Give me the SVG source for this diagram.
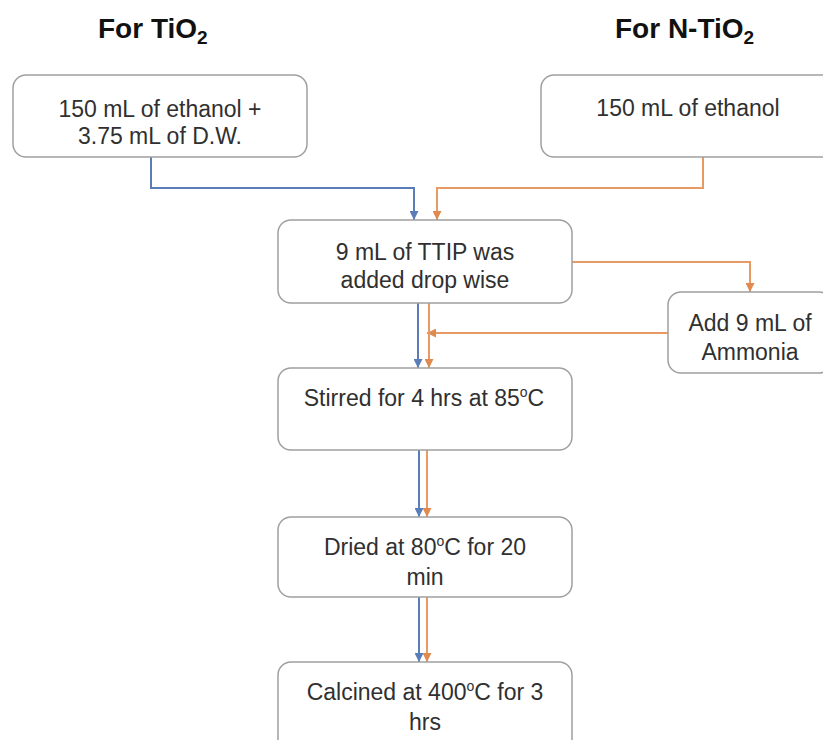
<svg xmlns="http://www.w3.org/2000/svg" width="823" height="740" viewBox="0 0 823 740">
<defs>
<style>
.box{fill:#fff;stroke:#a0a0a0;stroke-width:1.5}
.t{font-family:"Liberation Sans",Arial,sans-serif;font-size:23px;fill:#303030;text-anchor:middle}
.h{font-family:"Liberation Sans",Arial,sans-serif;font-size:28px;font-weight:bold;fill:#111}
.b{fill:none;stroke:#5a7db8;stroke-width:2}
.o{fill:none;stroke:#e89a64;stroke-width:2}
</style>
<marker id="ab" viewBox="0 0 10 10" refX="10" refY="5" markerWidth="9" markerHeight="9" markerUnits="userSpaceOnUse" orient="auto"><path d="M0,0 L10,5 L0,10 Z" fill="#5a7db8"/></marker>
<marker id="ao" viewBox="0 0 10 10" refX="10" refY="5" markerWidth="9" markerHeight="9" markerUnits="userSpaceOnUse" orient="auto"><path d="M0,0 L10,5 L0,10 Z" fill="#e08a50"/></marker>
</defs>
<rect width="823" height="740" fill="#fff"/>
<g id="title-tio2"><text class="h" x="98" y="38">For TiO<tspan dy="6" font-size="19">2</tspan></text></g>
<g id="title-ntio2"><text class="h" x="615" y="38">For N-TiO<tspan dy="6" font-size="19">2</tspan></text></g>
<g id="connectors">
<path class="b" d="M151 157 V188 H414 V220" marker-end="url(#ab)"/>
<path class="o" d="M703 157 V188 H437 V220" marker-end="url(#ao)"/>
<path class="o" d="M572 262 H750 V292" marker-end="url(#ao)"/>
<path class="o" d="M668 333 H427" marker-end="url(#ao)"/>
<path class="b" d="M418 303 V368" marker-end="url(#ab)"/>
<path class="o" d="M429 303 V368" marker-end="url(#ao)"/>
<path class="b" d="M419 450 V517" marker-end="url(#ab)"/>
<path class="o" d="M427 450 V517" marker-end="url(#ao)"/>
<path class="b" d="M419 597 V662" marker-end="url(#ab)"/>
<path class="o" d="M427 597 V662" marker-end="url(#ao)"/>
</g>
<g id="n1"><rect class="box" x="13" y="75" width="294" height="82" rx="13"/><text class="t" x="160" y="117">150 mL of ethanol +</text><text class="t" x="160" y="144">3.75 mL of D.W.</text></g>
<g id="n2"><rect class="box" x="541" y="75" width="294" height="82" rx="13"/><text class="t" x="688" y="116">150 mL of ethanol</text></g>
<g id="n3"><rect class="box" x="278" y="220" width="294" height="83" rx="13"/><text class="t" x="425" y="260">9 mL of TTIP was</text><text class="t" x="425" y="288">added drop wise</text></g>
<g id="n4"><rect class="box" x="668" y="292" width="164" height="81" rx="13"/><text class="t" x="750" y="331">Add 9 mL of</text><text class="t" x="750" y="360">Ammonia</text></g>
<g id="n5"><rect class="box" x="278" y="368" width="294" height="82" rx="13"/><text class="t" x="424" y="406">Stirred for 4 hrs at 85<tspan font-size="14" dy="-9">o</tspan><tspan dy="9">C</tspan></text></g>
<g id="n6"><rect class="box" x="278" y="517" width="294" height="80" rx="13"/><text class="t" x="425" y="555">Dried at 80<tspan font-size="14" dy="-9">o</tspan><tspan dy="9">C for 20</tspan></text><text class="t" x="425" y="585">min</text></g>
<g id="n7"><rect class="box" x="278" y="662" width="294" height="90" rx="13"/><text class="t" x="425" y="700">Calcined at 400<tspan font-size="14" dy="-9">o</tspan><tspan dy="9">C for 3</tspan></text><text class="t" x="425" y="730">hrs</text></g>
</svg>
